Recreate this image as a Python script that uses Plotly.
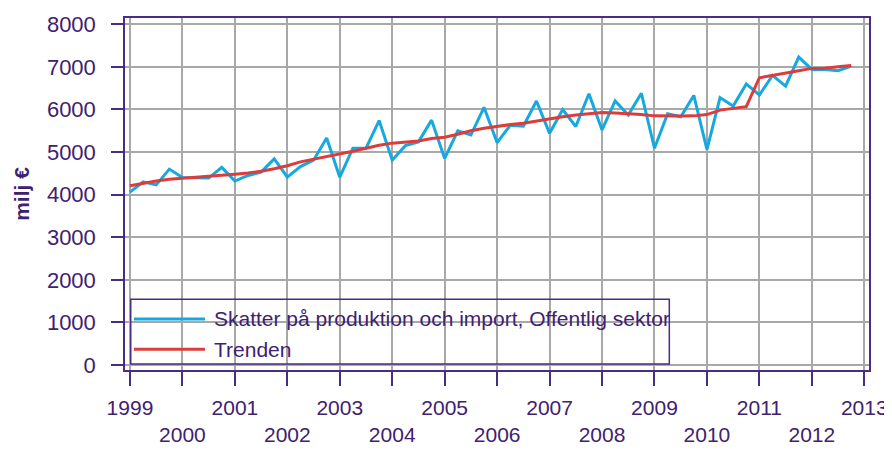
import plotly.graph_objects as go

years = list(range(1999, 2013))
quarters = [y + q / 4 for y in years for q in range(4)]

skatter = [
    4060, 4300, 4230, 4600,
    4400, 4400, 4390, 4640,
    4320, 4450, 4530, 4840,
    4410, 4660, 4810, 5330,
    4410, 5090, 5090, 5740,
    4810, 5150, 5240, 5750,
    4850, 5500, 5400, 6050,
    5220, 5630, 5610, 6200,
    5440, 6000, 5600, 6370,
    5520, 6200, 5870, 6380,
    5090, 5900, 5830, 6330,
    5060, 6280, 6080, 6600,
    6340, 6800, 6550, 7230,
    6940, 6940, 6910, 7020,
]

trend = [
    4210, 4270, 4320, 4360,
    4390, 4410, 4430, 4450,
    4480, 4510, 4550, 4610,
    4680, 4770, 4830, 4890,
    4950, 5020, 5090, 5160,
    5210, 5240, 5260, 5320,
    5350, 5420, 5500, 5560,
    5610, 5645, 5675, 5730,
    5790, 5830, 5870, 5905,
    5930, 5920, 5905, 5880,
    5850, 5840, 5845, 5850,
    5880, 5985, 6025, 6065,
    6745, 6805, 6860, 6910,
    6965, 6970, 7005, 7035,
]

tick_years = list(range(1999, 2014))
tick_labels = [str(y) if (y - 1999) % 2 == 0 else "<br>" + str(y) for y in tick_years]
y_ticks = list(range(0, 8001, 1000))

series_names = ["Skatter på produktion och import, Offentlig sektor", "Trenden"]
series_colors = ["#16a8e0", "#dc3c3c"]

TXT = "#3e2170"
AX = "#4a2c82"
GRID = "#a8a8a8"
FONT = "Liberation Sans, Arial, sans-serif"

fig = go.Figure()
fig.add_trace(go.Scatter(x=quarters, y=skatter, mode="lines", name=series_names[0],
                         line=dict(color=series_colors[0], width=3), showlegend=False))
fig.add_trace(go.Scatter(x=quarters, y=trend, mode="lines", name=series_names[1],
                         line=dict(color=series_colors[1], width=3), showlegend=False))

# legend drawn as box + sample lines + text (paper coords)
fig.add_shape(type="rect", xref="paper", yref="paper", x0=0.0077, x1=0.7316, y0=0.017, y1=0.2009,
              line=dict(color=AX, width=1.5), fillcolor="rgba(0,0,0,0)")
leg_y = [0.1449, 0.0588]
for name, col, yy in zip(series_names, series_colors, leg_y):
    fig.add_shape(type="line", xref="paper", yref="paper", x0=0.0121, x1=0.1075, y0=yy, y1=yy,
                  line=dict(color=col, width=3))
    fig.add_annotation(xref="paper", yref="paper", x=0.1165, y=yy, text=name, showarrow=False,
                       xanchor="left", yanchor="middle", font=dict(size=21, color=TXT, family=FONT))

# page body has an 8px margin, so the figure is offset by 8px
fig.update_layout(
    width=884, height=442,
    margin=dict(l=117, r=23, t=10, b=80, autoexpand=False),
    paper_bgcolor="white", plot_bgcolor="white",
    font=dict(family=FONT, size=21, color=TXT),
    showlegend=False,
)
fig.update_xaxes(
    range=[1998.905, 2013.09], tickvals=tick_years, ticktext=tick_labels,
    showgrid=True, gridcolor=GRID, gridwidth=1.5,
    showline=True, linecolor=AX, linewidth=1.5, mirror=True,
    ticks="outside", ticklen=14, tickcolor=AX, tickwidth=1.5, tickangle=0,
    ticklabelstandoff=4, zeroline=False, automargin=False,
    tickfont=dict(size=21, color=TXT, family=FONT),
)
fig.update_yaxes(
    range=[-117, 8148], tickvals=y_ticks,
    showgrid=True, gridcolor=GRID, gridwidth=1.5,
    showline=True, linecolor=AX, linewidth=1.5, mirror=True,
    ticks="outside", ticklen=12, tickcolor=AX, tickwidth=1.5,
    ticklabelstandoff=11, zeroline=False, automargin=False,
    tickfont=dict(size=22, color=TXT, family=FONT),
    title=dict(text="<b>milj €</b>", font=dict(size=21, color=TXT, family=FONT), standoff=12),
)

fig.write_html("out.html")
